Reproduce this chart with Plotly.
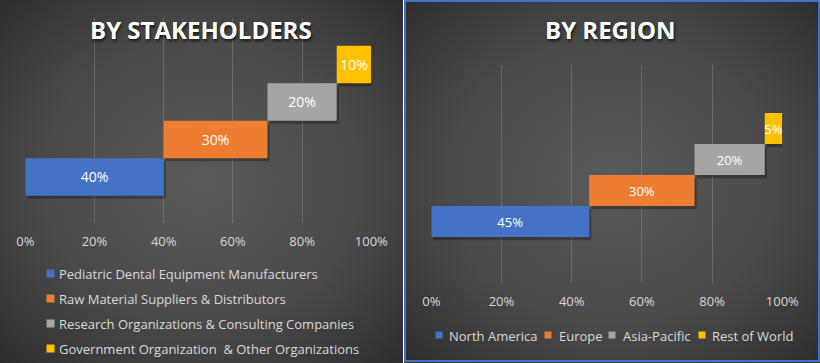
import base64
import plotly.graph_objects as go

# ---------------- data ----------------
stake_labels = ["Pediatric Dental Equipment Manufacturers",
                "Raw Material Suppliers & Distributors",
                "Research Organizations & Consulting Companies",
                "Government Organization  & Other Organizations"]
stake_values = [40, 30, 20, 10]

region_labels = ["North America", "Europe", "Asia-Pacific", "Rest of World"]
region_values = [45, 30, 20, 5]

tick_vals = [0, 20, 40, 60, 80, 100]
tick_text = ["0%", "20%", "40%", "60%", "80%", "100%"]

colors = ["#4472C4", "#ED7D31", "#A5A5A5", "#FFC000"]

W, H = 820, 363
FONT = "Open Sans"


def cumbase(vals):
    out, s = [], 0
    for v in vals:
        out.append(s)
        s += v
    return out


def grad_uri(w, h):
    svg = (f"<svg xmlns='http://www.w3.org/2000/svg' width='{w}' height='{h}' "
           f"viewBox='0 0 {w} {h}' preserveAspectRatio='none'>"
           "<defs><radialGradient id='g' cx='50%' cy='50%' r='72%'>"
           "<stop offset='0' stop-color='#5a5a5a'/>"
           "<stop offset='0.55' stop-color='#4a4a4a'/>"
           "<stop offset='1' stop-color='#2c2c2c'/>"
           "</radialGradient></defs>"
           f"<rect x='0' y='0' width='{w}' height='{h}' fill='url(#g)'/></svg>")
    return "data:image/svg+xml;base64," + base64.b64encode(svg.encode()).decode()


fig = go.Figure()


def add_panel(labels, values, xa, ya, txt_size, dy):
    bases = cumbase(values)
    # soft drop shadows (drawn first, beneath the bars)
    for i, v in enumerate(values):
        fig.add_trace(go.Bar(
            x=[v], y=[i], base=[bases[i] + 0.6], orientation="h", width=1,
            offset=-0.5 - dy, marker=dict(color="rgba(0,0,0,0.28)", line=dict(width=0)),
            showlegend=False, hoverinfo="skip", xaxis=xa, yaxis=ya))
    for i, (lab, v) in enumerate(zip(labels, values)):
        fig.add_trace(go.Bar(
            x=[v], y=[i], base=[bases[i]], orientation="h", width=1, offset=-0.5,
            name=lab, marker=dict(color=colors[i], line=dict(width=0)),
            text=[f"{v}%"], textposition="inside", insidetextanchor="middle",
            textangle=0, constraintext="none",
            textfont=dict(color="white", size=txt_size, family=FONT),
            xaxis=xa, yaxis=ya, showlegend=False, hoverinfo="skip"))


add_panel(stake_labels, stake_values, "x", "y", 14, 0.08)
add_panel(region_labels, region_values, "x2", "y2", 13, 0.1)

axis_common = dict(range=[0, 100], tickvals=tick_vals, ticktext=tick_text,
                   showgrid=True, gridcolor="rgba(150,150,150,0.42)", gridwidth=1,
                   zeroline=False, showline=False, ticks="",
                   tickfont=dict(color="#D9D9D9", size=13, family=FONT),
                   ticklabelstandoff=9, fixedrange=True, automargin=False)

legend_ann = []


def swatch(x, y, size, color):
    return dict(text=" ", xref="paper", yref="paper", x=x / W, y=1 - y / H,
                xanchor="left", yanchor="middle", showarrow=False,
                width=size, height=size, borderpad=0, bgcolor=color,
                font=dict(size=4))


def label(text, x, y, size):
    return dict(text=text, xref="paper", yref="paper", x=x / W, y=1 - y / H,
                xanchor="left", yanchor="middle", showarrow=False,
                font=dict(color="#D9D9D9", size=size, family=FONT))


# left panel legend (vertical)
left_rows_y = [274, 299, 324, 349]
for i, lab in enumerate(stake_labels):
    legend_ann.append(swatch(46, left_rows_y[i] - 0.5, 7, colors[i]))
    legend_ann.append(label(lab, 57, left_rows_y[i], 13))

# right panel legend (horizontal)
swatch_x = [435, 544, 608, 698]
label_x = [447, 557, 621, 710]
for i, lab in enumerate(region_labels):
    legend_ann.append(swatch(swatch_x[i], 334.5, 6, colors[i]))
    legend_ann.append(label(lab, label_x[i], 336, 13))

fig.update_layout(
    width=W, height=H,
    margin=dict(l=0, r=0, t=0, b=0, autoexpand=False),
    paper_bgcolor="white", plot_bgcolor="rgba(0,0,0,0)",
    barmode="overlay", showlegend=False,
    font=dict(family=FONT),
    xaxis=dict(domain=[25.3 / W, 371.3 / W], anchor="y", **axis_common),
    yaxis=dict(domain=[1 - 223 / H, 1 - 18 / H], range=[-1.23, 4.24],
               visible=False, fixedrange=True),
    xaxis2=dict(domain=[431.3 / W, 782.3 / W], anchor="y2", **axis_common),
    yaxis2=dict(domain=[1 - 283 / H, 1 - 65 / H], range=[-1.98, 5.05],
                visible=False, fixedrange=True),
    images=[
        dict(source=grad_uri(403, 363), xref="paper", yref="paper",
             x=0, y=1, sizex=403 / W, sizey=1, xanchor="left", yanchor="top",
             sizing="stretch", layer="below"),
        dict(source=grad_uri(415, 363), xref="paper", yref="paper",
             x=404 / W, y=1, sizex=416 / W, sizey=1, xanchor="left", yanchor="top",
             sizing="stretch", layer="below"),
    ],
    shapes=[
        dict(type="rect", xref="paper", yref="paper",
             x0=405 / W, x1=819 / W, y0=1 - 361 / H, y1=1 - 1 / H,
             line=dict(color="#4472C4", width=2), fillcolor="rgba(0,0,0,0)",
             layer="above"),
    ],
    annotations=[
        dict(text="<b>BY STAKEHOLDERS</b>", xref="paper", yref="paper",
             x=201 / W, y=1 - 30 / H, xanchor="center", yanchor="middle",
             showarrow=False,
             font=dict(color="white", size=24, family=FONT,
                       shadow="1px 2px 3px rgba(0,0,0,0.7)")),
        dict(text="<b>BY REGION</b>", xref="paper", yref="paper",
             x=610 / W, y=1 - 30 / H, xanchor="center", yanchor="middle",
             showarrow=False,
             font=dict(color="white", size=24, family=FONT,
                       shadow="1px 2px 3px rgba(0,0,0,0.7)")),
    ] + legend_ann,
)

fig.write_html("out.html", config={"responsive": False, "displayModeBar": False},
               post_script="document.body.style.margin='0';document.body.style.padding='0';document.body.style.overflow='hidden';")
